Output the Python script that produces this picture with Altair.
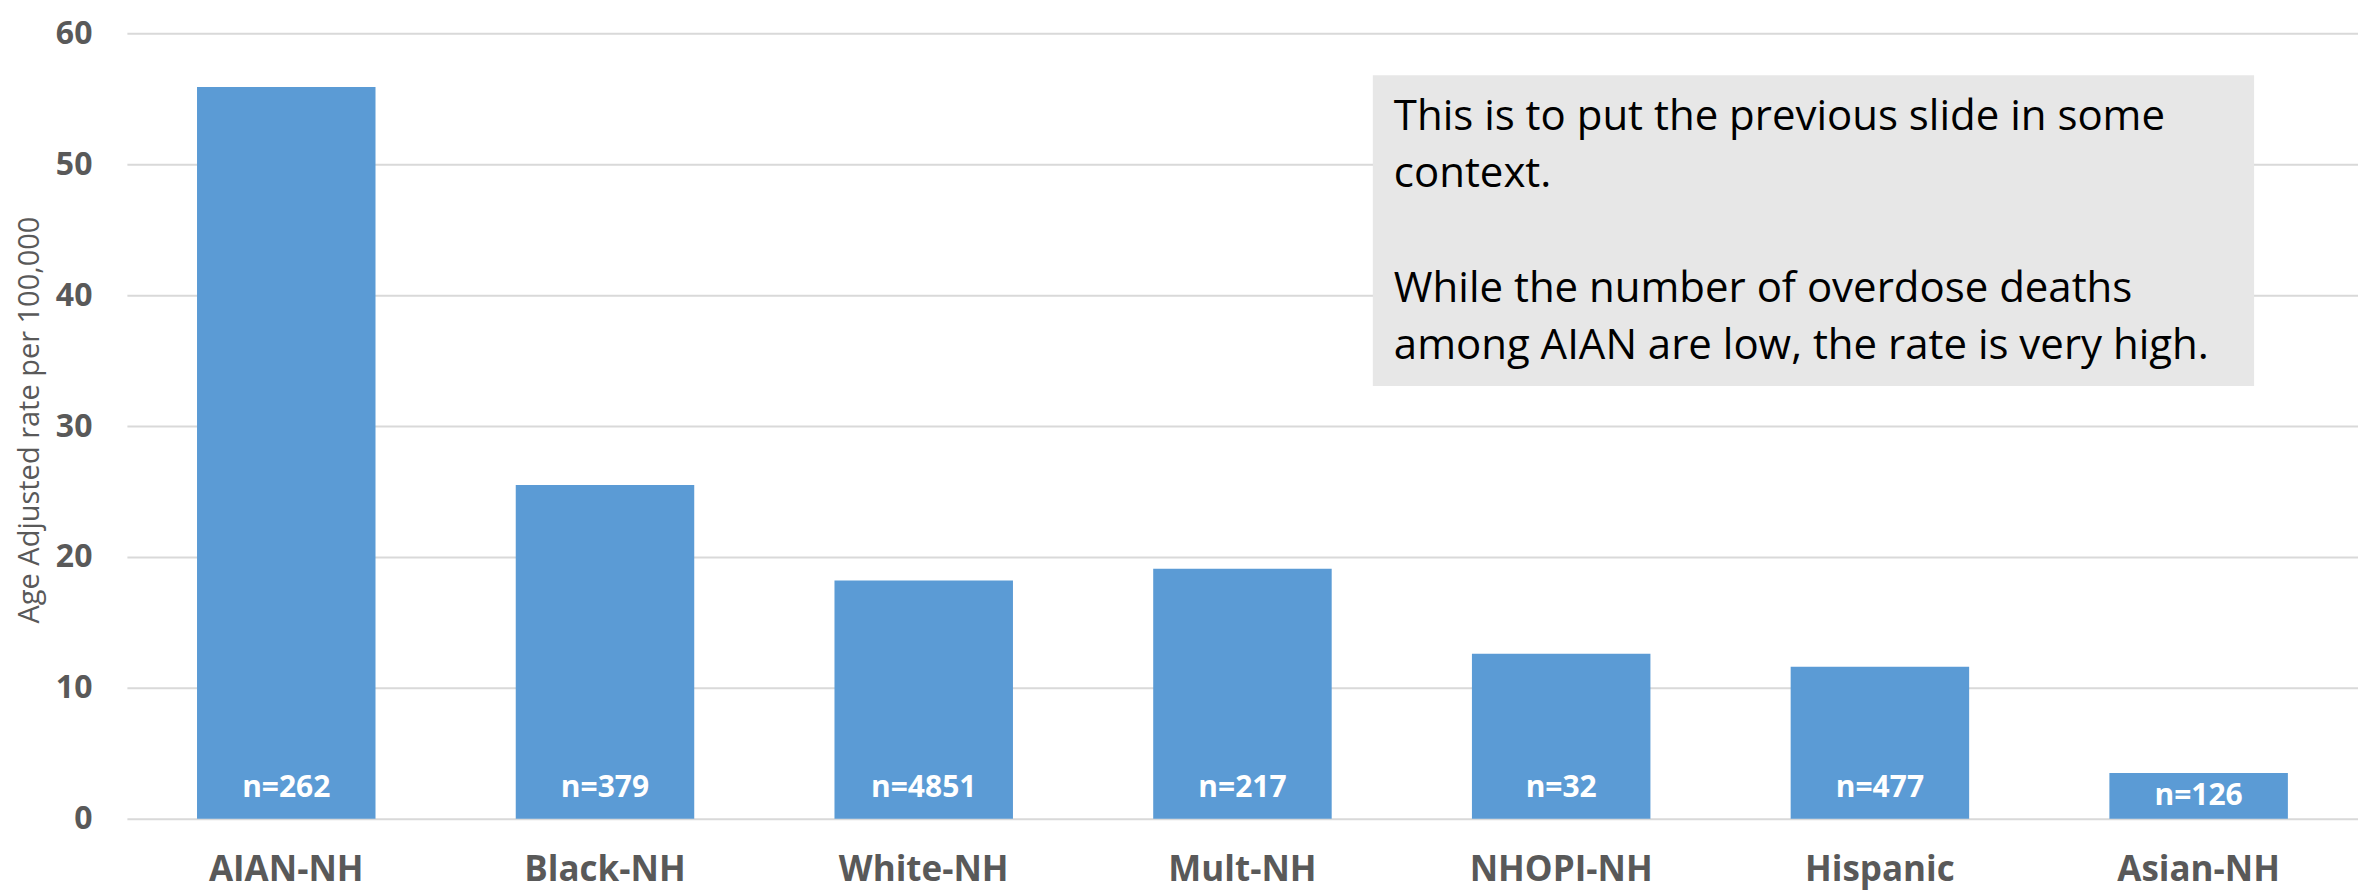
import altair as alt
import pandas as pd

categories = ["AIAN-NH", "Black-NH", "White-NH", "Mult-NH", "NHOPI-NH", "Hispanic", "Asian-NH"]
rates = [55.9, 25.5, 18.2, 19.1, 12.6, 11.6, 3.5]
counts = [262, 379, 4851, 217, 32, 477, 126]

note_para1 = [
    "This is to put the previous slide in some",
    "context.",
]
note_para2 = [
    "While the number of overdose deaths",
    "among AIAN are low, the rate is very high.",
]

y_title = "Age Adjusted rate per 100,000"
y_ticks = [0, 10, 20, 30, 40, 50, 60]

df = pd.DataFrame({"category": categories, "rate": rates, "n": counts})

GRAY = "#595959"
BLUE = "#5b9bd5"
FONT = "Open Sans"

TOP = 25
W, H = 2233, 786

base = alt.Chart(df)

x_enc = alt.X(
    "category:N",
    sort=categories,
    title=None,
    scale=alt.Scale(paddingInner=0.44, paddingOuter=0.22),
    axis=alt.Axis(
        labelAngle=0,
        labelFont=FONT,
        labelFontSize=35,
        labelFontWeight="bold",
        labelColor=GRAY,
        labelPadding=34,
        labelLimit=0,
        domain=False,
        ticks=False,
        grid=False,
    ),
)

y_enc = alt.Y(
    "rate:Q",
    title=None,
    scale=alt.Scale(domain=[0, 60], nice=False),
    axis=alt.Axis(
        values=y_ticks,
        labelFont=FONT,
        labelFontSize=32,
        labelFontWeight="bold",
        labelColor=GRAY,
        labelPadding=35,
        domain=False,
        ticks=False,
        gridColor="#d9d9d9",
        gridWidth=2,
    ),
)

bars = base.mark_bar(color=BLUE).encode(x=x_enc, y=y_enc)

labels = (
    base.transform_calculate(
        label="'n=' + datum.n",
        labelY="min(datum.rate / 2, 2.37)",
    )
    .mark_text(
        color="white",
        font=FONT,
        fontSize=30,
        fontWeight="bold",
        baseline="middle",
        align="center",
    )
    .encode(
        x=alt.X("category:N", sort=categories, title=None),
        y=alt.Y("labelY:Q", title=None),
        text="label:N",
    )
)

one = pd.DataFrame({"k": [0]})

ytitle = alt.Chart(one).mark_text(
    text=y_title,
    font=FONT,
    fontSize=29,
    color=GRAY,
    angle=270,
    align="center",
    baseline="middle",
).encode(x=alt.value(-97), y=alt.value(420 - 8 - TOP))

box = alt.Chart(one).mark_rect(color="#e7e7e7").encode(
    x=alt.value(1247), x2=alt.value(2129),
    y=alt.value(75 - 8 - TOP), y2=alt.value(386 - 8 - TOP),
)

note1 = alt.Chart(one).mark_text(
    text=note_para1,
    font=FONT,
    fontSize=42,
    color="black",
    align="left",
    baseline="alphabetic",
    lineHeight=57,
).encode(x=alt.value(1268), y=alt.value(130 - 8 - TOP))

note2 = alt.Chart(one).mark_text(
    text=note_para2,
    font=FONT,
    fontSize=42,
    color="black",
    align="left",
    baseline="alphabetic",
    lineHeight=57,
).encode(x=alt.value(1268), y=alt.value(302 - 8 - TOP))

chart = (
    alt.layer(bars, labels, ytitle, box, note1, note2)
    .properties(
        width=W,
        height=H,
        autosize=alt.AutoSizeParams(type="none"),
        padding={"left": 119, "top": TOP, "right": 0, "bottom": 74},
    )
    .configure_view(stroke=None)
)

chart.save("out.html", embed_options={"renderer": "svg", "actions": False})
